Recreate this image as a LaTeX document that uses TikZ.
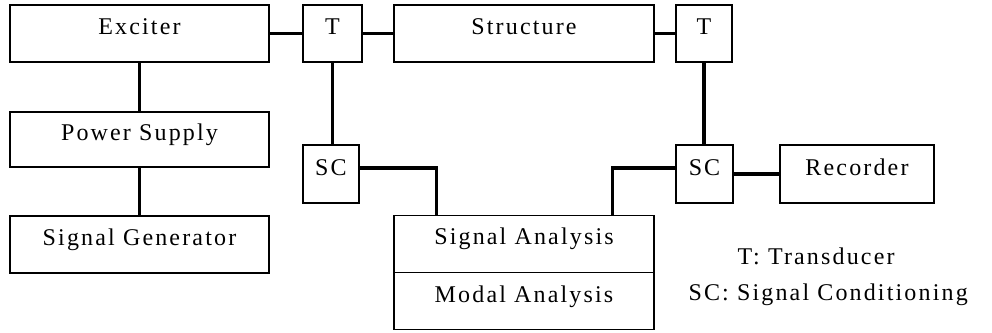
\documentclass[tikz,border=0pt]{standalone}
\usepackage{fontspec}
\setmainfont{Liberation Serif}[LetterSpace=9]
\usetikzlibrary{shapes.multipart,calc}

\tikzset{every picture/.style={line width=1.1pt}}
\tikzset{
  block/.style={draw, rectangle, inner sep=0pt, text height=8pt, text depth=6pt, font=\fontsize{24}{28}\selectfont},
  link/.style={line width=3.2pt},
  legend/.style={inner sep=0pt, text height=8pt, text depth=6pt, font=\fontsize{24}{28}\selectfont}
}

\begin{document}
\begin{tikzpicture}[x=1pt,y=1pt,yscale=-1,xscale=1]
\useasboundingbox (0,0) rectangle (992,332);

% Top row
\node [block, minimum width=259, minimum height=57] (exciter) at (139.5,33.5) {Exciter};
\node [block, minimum width=59, minimum height=57] (tone) at (332.5,33.5) {T};
\node [block, minimum width=260, minimum height=57] (structure) at (524,33.5) {Structure};
\node [block, minimum width=56, minimum height=57] (ttwo) at (704,33.5) {T};

% Left column
\node [block, minimum width=259, minimum height=55] (power) at (139.5,139.5) {Power Supply};
\node [block, minimum width=259, minimum height=57] (siggen) at (139.5,244.5) {Signal Generator};

% Conditioning and recording
\node [block, minimum width=56, minimum height=58] (scone) at (331,174) {SC};
\node [block, minimum width=57, minimum height=58] (sctwo) at (704.5,174) {SC};
\node [block, minimum width=154, minimum height=58] (recorder) at (857,174) {Recorder};

% Analysis
\node [block, rectangle split, rectangle split parts=2, minimum width=260, inner ysep=21pt] (analysis) at (524,272.5)
  {\raisebox{0pt}[8pt][6pt]{Signal Analysis} \nodepart{second} \raisebox{0pt}[8pt][6pt]{Modal Analysis}};

% Connectors
\draw [link] (exciter) -- (tone);
\draw [link] (tone) -- (structure);
\draw [link] (structure) -- (ttwo);
\draw [link] (exciter) -- (power);
\draw [link] (power) -- (siggen);
\draw [link] (tone.south) -- (tone.south |- scone.north);
\draw [link] ($(scone.east)+(0,-6)$) -| ($(analysis.north west)+(43,0)$);
\draw [link] ($(analysis.north east)+(-42,0)$) |- ($(sctwo.west)+(0,-6)$);
\draw [link] (ttwo.south) -- (ttwo.south |- sctwo.north);
\draw [link] (sctwo) -- (recorder);

% Text Node
\node [legend, anchor=west] (ttext) at (737,263) {T: Transducer};
% Text Node
\node [legend, anchor=west] (sctext) at (688,299) {SC: Signal Conditioning};

\end{tikzpicture}
\end{document}
